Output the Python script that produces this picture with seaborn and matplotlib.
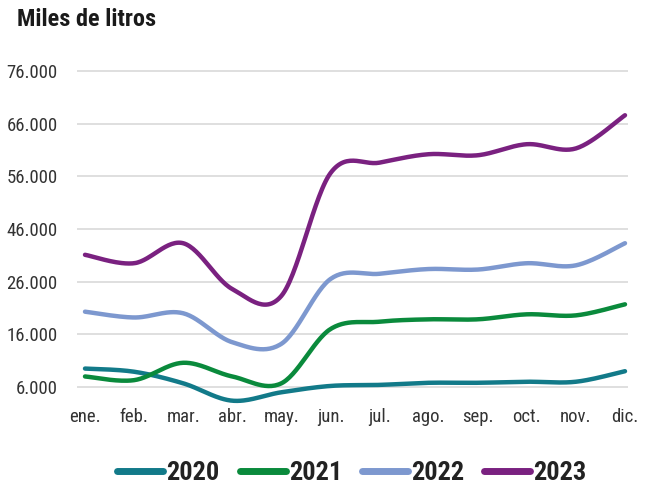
import numpy as np
import pandas as pd
import matplotlib
matplotlib.use("Agg")
import matplotlib.pyplot as plt
import seaborn as sns
from matplotlib import font_manager
from matplotlib.lines import Line2D

months = ["ene.", "feb.", "mar.", "abr.", "may.", "jun.", "jul.", "ago.", "sep.", "oct.", "nov.", "dic."]
years = ["2020", "2021", "2022", "2023"]
v2020 = [9.5, 8.9, 6.7, 3.4, 5.0, 6.2, 6.4, 6.8, 6.8, 7.0, 7.0, 9.0]
v2021 = [8.0, 7.3, 10.6, 8.0, 6.7, 17.0, 18.4, 18.85, 18.85, 19.8, 19.6, 21.7]
v2022 = [20.3, 19.2, 20.0, 14.5, 14.2, 26.5, 27.5, 28.4, 28.3, 29.5, 29.1, 33.3]
v2023 = [31.1, 29.5, 33.3, 24.6, 23.3, 46.6, 48.6, 50.2, 50.0, 52.1, 51.3, 57.6]
y_ticks = [6, 16, 26, 36, 46, 56, 66]
y_tick_labels = ["6.000", "16.000", "26.000", "46.000", "56.000", "66.000", "76.000"]
colors = ["#127a89", "#0a8a3c", "#7d98cf", "#7a2180"]

sns.set_theme(style="white")
avail = {f.name for f in font_manager.fontManager.ttflist}
fam = "DejaVu Sans"
for cand in ["Roboto Condensed", "Liberation Sans Narrow", "Open Sans Condensed", "Lato", "Roboto"]:
    if cand in avail:
        fam = cand
        break
plt.rcParams["font.family"] = [fam, "DejaVu Sans"]


def smooth(vals, n=30):
    p = np.column_stack([np.arange(len(vals), dtype=float), np.asarray(vals, float)])
    out = []
    for i in range(len(p) - 1):
        p0 = p[i - 1] if i > 0 else p[i]
        p1, p2 = p[i], p[i + 1]
        p3 = p[i + 2] if i + 2 < len(p) else p[i + 1]
        b1 = p1 + (p2 - p0) / 6.0
        b2 = p2 - (p3 - p1) / 6.0
        t = np.linspace(0, 1, n, endpoint=(i == len(p) - 2))[:, None]
        seg = (1 - t) ** 3 * p1 + 3 * (1 - t) ** 2 * t * b1 + 3 * (1 - t) * t ** 2 * b2 + t ** 3 * p2
        out.append(seg)
    return np.vstack(out)


frames = []
for yr, vals in zip(years, [v2020, v2021, v2022, v2023]):
    s = smooth(vals)
    frames.append(pd.DataFrame({"x": s[:, 0], "v": s[:, 1], "año": yr}))
df = pd.concat(frames, ignore_index=True)

fig = plt.figure(figsize=(6.5, 4.92), dpi=100)
ax = fig.add_axes([77 / 650, (492 - 405) / 492, (628 - 77) / 650, (405 - 60) / 492])

for yt in y_ticks:
    ax.axhline(yt, color="#d9d9d9", lw=1.2, zorder=0)

sns.lineplot(data=df, x="x", y="v", hue="año", palette=colors, sort=False,
             estimator=None, units="año", linewidth=3.2, legend=False, ax=ax,
             solid_capstyle="round")

px = 11 / (625 - 85)
ax.set_xlim(-8 * px, 11 + 3 * px)
ypx = 1 / 5.267
ax.set_ylim(6 - 18 * ypx, 66 + 11 * ypx)
ax.set_xticks(range(12))
ax.set_xticklabels(months)
ax.set_yticks(y_ticks)
ax.set_yticklabels(y_tick_labels)
ax.tick_params(axis="y", length=0, pad=14, labelsize=13.5, labelcolor="#333333")
ax.tick_params(axis="x", length=0, pad=2, labelsize=13.5, labelcolor="#333333")
ax.set_xlabel("")
ax.set_ylabel("")
for sp in ax.spines.values():
    sp.set_visible(False)

fig.text(17 / 650, 1 - 20 / 492, "Miles de litros", fontsize=17.5, fontweight="bold",
         color="#1a1a1a", va="center", ha="left")

handles = [Line2D([0], [0], color=c, lw=5, solid_capstyle="round") for c in colors]
leg = fig.legend(handles, years, loc="center", bbox_to_anchor=(352 / 650, 1 - 473 / 492), ncol=4,
                 frameon=False, handlelength=1.75, handletextpad=0.12, columnspacing=0.75,
                 prop={"size": 19, "weight": "bold"})
for t in leg.get_texts():
    t.set_color("#222222")

fig.savefig("out.png", dpi=100)
